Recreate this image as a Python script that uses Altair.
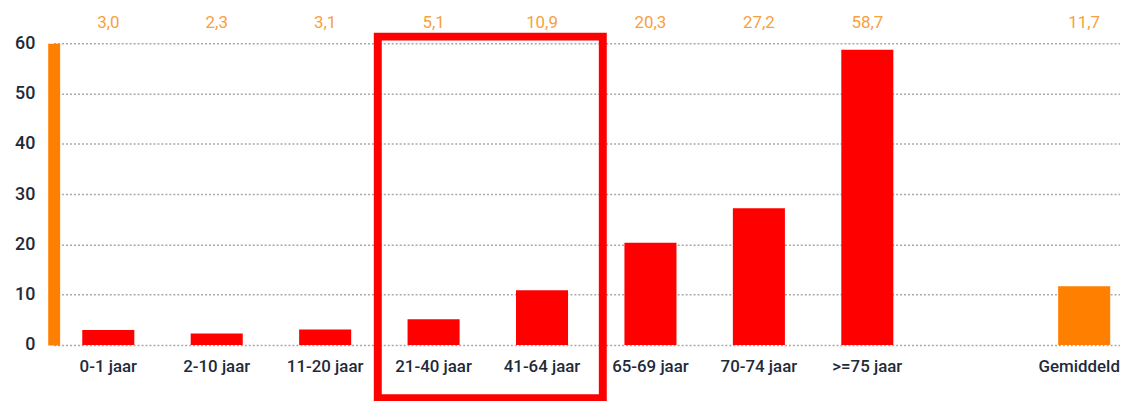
import altair as alt
import pandas as pd

categories = ["0-1 jaar", "2-10 jaar", "11-20 jaar", "21-40 jaar", "41-64 jaar",
              "65-69 jaar", "70-74 jaar", ">=75 jaar", "Gemiddeld"]
values = [3.0, 2.3, 3.1, 5.1, 10.9, 20.3, 27.2, 58.7, 11.7]
kinds = ["age"] * 8 + ["avg"]
x_domain = categories[:8] + [" "] + ["Gemiddeld"]
y_ticks = [0, 10, 20, 30, 40, 50, 60]

df = pd.DataFrame({"cat": categories, "v": values, "kind": kinds})

FONT = "Roboto"
DARK = "#1e2a3a"
ORANGE = "#ff7f00"
LABEL_ORANGE = "#f7a040"
RED = "#ff0000"

xscale = alt.Scale(domain=x_domain, paddingInner=0.52, paddingOuter=0.177, align=0.745)
yscale = alt.Scale(domain=[0, 60], nice=False, zero=True)

bars = alt.Chart(df).mark_bar().encode(
    x=alt.X("cat:N", scale=xscale, sort=None,
            axis=alt.Axis(title=None, ticks=False, domain=False, grid=False,
                          labelAngle=0, labelPadding=14, labelFont=FONT,
                          labelFontSize=17, labelFontWeight=500, labelColor=DARK,
                          labelOffset={"condition": {"test": "datum.value === 'Gemiddeld'",
                                                     "value": -5}, "value": 0})),
    y=alt.Y("v:Q", scale=yscale,
            axis=alt.Axis(title=None, values=y_ticks, ticks=False, grid=True,
                          gridDash=[2, 2], gridColor="#a8a8a8", gridWidth=1.5,
                          domain=True, domainColor=ORANGE, domainWidth=12,
                          labelPadding=19, labelFont=FONT, labelFontSize=18,
                          labelFontWeight=500, labelColor=DARK)),
    color=alt.Color("kind:N", scale=alt.Scale(domain=["age", "avg"], range=[RED, ORANGE]),
                    legend=None),
)

labels = alt.Chart(df).transform_calculate(
    lab="replace(format(datum.v, '.1f'), '.', ',')"
).mark_text(font=FONT, fontSize=17, color=LABEL_ORANGE, baseline="middle").encode(
    x=alt.X("cat:N", scale=xscale, sort=None),
    y=alt.Y(datum=64, scale=yscale),
    text="lab:N",
)

box = alt.Chart(pd.DataFrame({"a": [0]})).mark_rect(
    fill=None, stroke=RED, strokeWidth=8, fillOpacity=0,
    xOffset=-30, x2Offset=35,
).encode(
    x=alt.X(datum="21-40 jaar", bandPosition=0, scale=xscale),
    x2=alt.X2Datum(datum="41-64 jaar", bandPosition=1),
    y=alt.Y(datum=61.3, scale=yscale),
    y2=alt.Y2Datum(datum=-10.6),
)

chart = alt.layer(bars, labels, box).properties(
    width=1074, height=304,
    autosize=alt.AutoSizeParams(type="none"),
    padding={"left": 46, "top": 34, "right": 0, "bottom": 55},
).configure_view(stroke=None)

chart.save("out.html", embed_options={"renderer": "svg", "actions": False})
